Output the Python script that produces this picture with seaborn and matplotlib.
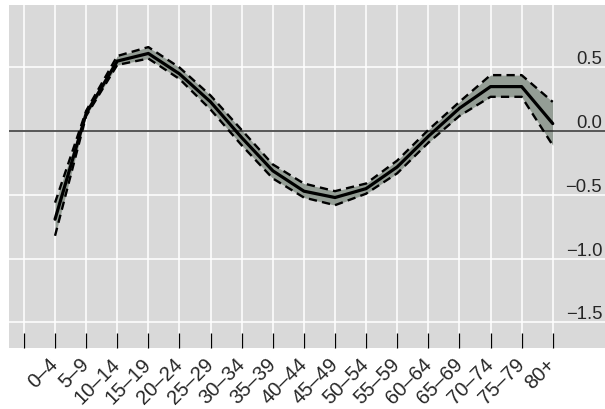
import matplotlib
matplotlib.use("Agg")
import matplotlib.pyplot as plt
import seaborn as sns
import pandas as pd

# Age groups (first tick position is left blank in the original)
age_groups = ["", "0–4", "5–9", "10–14", "15–19", "20–24", "25–29", "30–34",
              "35–39", "40–44", "45–49", "50–54", "55–59", "60–64", "65–69",
              "70–74", "75–79", "80+"]

# Estimate and bounds for each age group (0–4 ... 80+)
estimate = [-0.69, 0.14, 0.55, 0.61, 0.45, 0.23, -0.05, -0.31, -0.47, -0.52,
            -0.45, -0.28, -0.04, 0.18, 0.35, 0.35, 0.06]
upper = [-0.56, 0.16, 0.59, 0.66, 0.50, 0.28, 0.01, -0.26, -0.41, -0.47,
         -0.41, -0.23, 0.01, 0.23, 0.44, 0.44, 0.23]
lower = [-0.82, 0.12, 0.52, 0.57, 0.41, 0.17, -0.11, -0.37, -0.52, -0.58,
         -0.49, -0.33, -0.09, 0.12, 0.27, 0.27, -0.11]

y_ticks = [-1.5, -1.0, -0.5, 0.0, 0.5]
y_tick_labels = ["−1.5", "−1.0", "−0.5", "0.0", "0.5"]

df = pd.DataFrame({
    "pos": range(1, len(estimate) + 1),
    "estimate": estimate,
    "upper": upper,
    "lower": lower,
})

sns.set_style("darkgrid", {"axes.facecolor": "#d9d9d9", "grid.color": "white"})
plt.rcParams["font.family"] = ["Liberation Sans", "DejaVu Sans"]

fig = plt.figure(figsize=(6.05, 4.10), dpi=100)
ax = fig.add_axes([9 / 605, 61 / 410, 596 / 605, 343 / 410])

# Confidence band
ax.fill_between(df["pos"], df["lower"], df["upper"], color="#949d95", lw=0, zorder=2)
ax.axhline(0, color="#2b2b2b", lw=1.1, zorder=2.5)

sns.lineplot(data=df, x="pos", y="upper", ax=ax, color="black", lw=1.7,
             linestyle=(0, (3.5, 2.2)), zorder=3)
sns.lineplot(data=df, x="pos", y="lower", ax=ax, color="black", lw=1.7,
             linestyle=(0, (3.5, 2.2)), zorder=3)
sns.lineplot(data=df, x="pos", y="estimate", ax=ax, color="black", lw=2.3, zorder=4)

ax.set_xlim(-0.48, 18.68)
ax.set_ylim(-1.70, 0.99)

ax.set_xticks(range(len(age_groups)))
ax.set_xticklabels(age_groups, rotation=45, ha="right", va="center",
                   rotation_mode="anchor", fontsize=14.5)
ax.tick_params(axis="x", direction="in", length=11, width=0.9, color="black",
               pad=9, bottom=True)

ax.yaxis.tick_right()
ax.set_yticks(y_ticks)
ax.set_yticklabels(y_tick_labels, fontsize=13.3)
ax.tick_params(axis="y", length=0, pad=-2)
for lbl in ax.get_yticklabels():
    lbl.set_horizontalalignment("right")
    lbl.set_verticalalignment("bottom")

ax.grid(True, color="white", lw=1.1)
for s in ax.spines.values():
    s.set_visible(False)
ax.set_xlabel("")
ax.set_ylabel("")

fig.savefig("out.png", dpi=100, facecolor="white")
